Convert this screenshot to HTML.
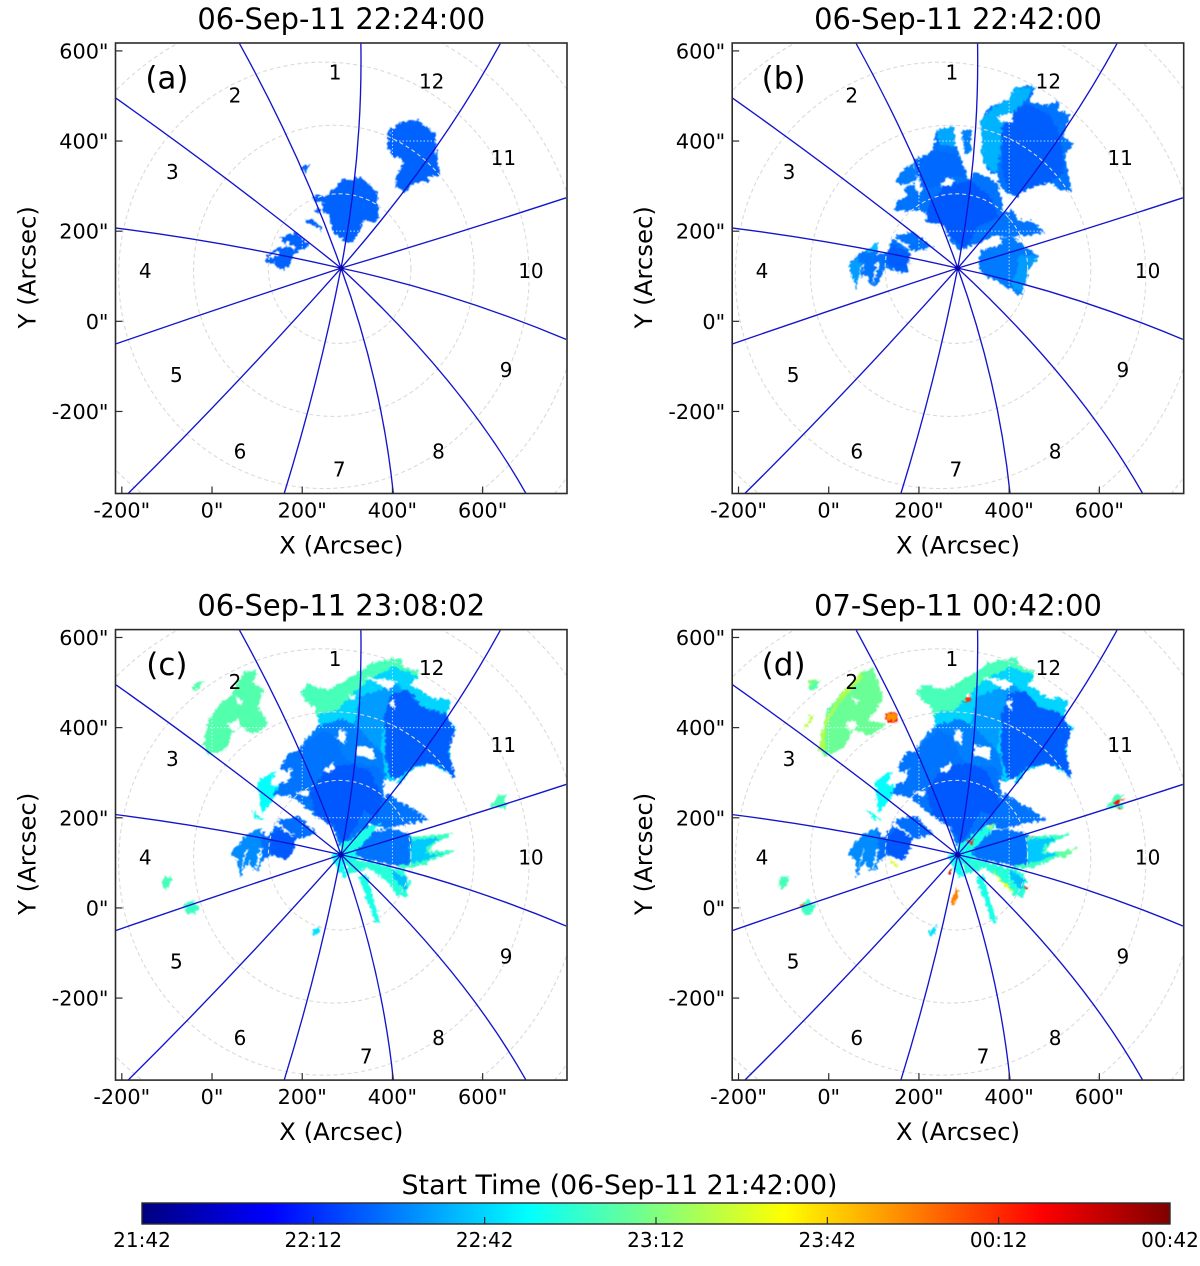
<!DOCTYPE html>
<html lang="en">
<head>
<meta charset="utf-8">
<title>Flare ribbon start-time maps</title>
<style>
html,body{margin:0;padding:0;background:#fff;}
svg{display:block;font-family:"DejaVu Sans","Liberation Sans",sans-serif;}
</style>
</head>
<body>
<svg id="figure" xmlns="http://www.w3.org/2000/svg" width="1200" height="1266" viewBox="0 0 1200 1266">
  <defs>
    <filter id="rough" filterUnits="userSpaceOnUse" x="0" y="0" width="1200" height="1266" color-interpolation-filters="sRGB">
      <feTurbulence type="fractalNoise" baseFrequency="0.3" numOctaves="2" seed="4" result="n"/>
      <feDisplacementMap in="SourceGraphic" in2="n" scale="7" xChannelSelector="R" yChannelSelector="G" result="d"/>
      <feGaussianBlur in="d" stdDeviation="0.4"/>
    </filter>
    <linearGradient id="jet-gradient" x1="0" x2="1" y1="0" y2="0"></linearGradient>
  </defs>
</svg>
<script>
// ---- Data (arcsec / minutes after 21:42) ----
const xTicks = [-200, 0, 200, 400, 600];
const yTicks = [-200, 0, 200, 400, 600];
const xDomain = [-214, 787];
const yDomain = [-382, 617.5];

const spokeCenter = [286, 118];
const spokeEndX = [330, 61, -213, -213, -213, -186, 160, 402, 696, 785, 785, 639];
const spokeEndY = [616, 616, 495, 207, -50, -382, -382, -382, -382, -40, 274, 616];
const spokeMidX = [321, 186, 36, 36, 36, 50, 230, 360, 523, 535, 535, 483];
const spokeMidY = [367, 367, 313, 169, 35, -140, -132, -132, -132, 52, 194, 367];

const ringCx = [283, 270, 248, 217, 195];
const ringCy = [117, 112, 102, 91, 84];
const ringRx = [158, 311, 455, 602, 732];
const ringRy = [166, 323, 473, 602, 732];

const gridX = [0, 200, 400];
const gridY = [200, 400];

const sectorNames = ['1','12','2','3','11','4','10','5','9','6','8','7'];
const sectorX = [273, 487, 51, -88, 646, -148, 707, -79, 652, 62, 502, 282];
const sectorY = [553, 533, 502, 332, 363, 113, 113, -118, -107, -288, -288, -328];
const sectorSevenLateX = 342;

const panelIds = ['a', 'b', 'c', 'd'];
const panelTitles = ['06-Sep-11 22:24:00', '06-Sep-11 22:42:00', '06-Sep-11 23:08:02', '07-Sep-11 00:42:00'];

const cbarMinutes = [0, 30, 60, 90, 120, 150, 180];
const cbarLabels = ['21:42', '22:12', '22:42', '23:12', '23:42', '00:12', '00:42'];
const cbarTitle = 'Start Time (06-Sep-11 21:42:00)';

const regionsA = [
 [40,[389,409,395,427,421,444,458,447,476,431,495,416,497,372,502,346,506,324,480,320,483,309,454,309,424,287,417,298,408,298,407,320,424,349,421,364,402,364,389,390]],
 [40,[225,279,254,279,277,301,288,316,313,312,325,321,343,312,354,298,365,283,369,231,358,220,336,224,325,194,310,176,295,176,277,190,265,202,262,231,243,246,247,264,225,268]],
 [40,[199,347,217,348,210,329,201,331]],
 [40,[206,225,225,225,243,209,241,202,225,213,206,220]],
 [40,[225,246,240,250,236,240]],
 [40,[151,185,188,198,217,168,192,157,177,142,173,124,151,114,136,128,118,131,121,146,143,161,166,165]]
];
const holesA = [
 [160,172,182,160,186,164,166,178],
 [128,138,150,150,146,156,128,144]
];

const regionsB = [
 [43,[336,446,358,475,402,494,410,516,439,523,458,520,446,486,483,479,509,490,509,466,535,460,520,412,543,394,524,372,531,327,539,287,513,290,491,309,446,298,417,276,398,283,380,298,373,327,362,327,343,350,339,394]],
 [43,[192,361,232,379,238,425,278,432,282,387,302,342,310,313,325,331,354,319,376,305,387,242,410,246,418,224,450,224,480,198,446,191,398,187,365,191,343,176,308,165,291,157,273,172,254,213,217,220,216,242,192,242,147,246,151,268,173,276,169,298,189,304,199,279,210,298,192,327]],
 [45,[295,423,313,425,315,375,301,372]],
 [44,[149,313,166,338,189,350,195,309,166,304,151,305]],
 [43,[44,124,62,146,88,161,110,176,107,150,125,150,136,165,143,187,188,198,232,165,203,157,180,157,177,120,169,106,143,113,125,120,107,80,92,80,81,106,66,91,61,69,55,106]],
 [44,[339,161,373,172,384,187,410,187,432,168,465,143,446,120,432,98,417,87,428,61,417,61,384,83,358,95,336,109,332,135]],
 [54,[336,446,365,475,402,494,410,516,454,520,443,497,387,438,373,327,343,350,339,394]],
 [52,[238,425,278,432,282,387,247,394]],
 [56,[88,161,110,176,107,157,84,150]],
 [50,[44,124,66,143,73,121,61,69]],
 [50,[424,150,465,143,446,120,428,61,402,83,417,106]],
 [41,[195,357,239,379,284,372,306,320,262,320,240,298,203,298]],
 [39,[384,427,410,464,439,483,491,457,509,423,520,372,520,327,487,309,450,298,417,279,398,290,384,342]],
 [38,[217,253,254,298,313,313,358,276,376,231,328,209,313,172,299,165,269,187,254,213,217,224]],
 [39,[129,150,143,172,180,150,177,113,151,113,129,128]]
];
const holesB = [
 [373,453,410,464,406,442,380,442],
 [247,301,262,320,280,313,269,301],
 [328,165,358,187,387,180,372,165,343,158],
 [173,246,213,243,210,235,176,239],
 [143,191,184,161,180,158,140,184],
 [75,128,79,128,67,88,64,88],
 [106,132,112,132,101,84,97,88]
];

const regionsShared = [
 [80,[195,479,210,497,247,486,265,486,325,523,358,545,417,556,424,534,454,527,458,512,432,490,410,490,373,423,321,416,232,423,228,445,210,457]],
 [60,[232,431,277,438,328,490,350,508,402,534,458,516,439,493,513,464,531,460,520,423,543,397,524,379,535,290,513,305,483,320,439,305,417,276,387,283,376,290,373,327,350,335,325,342,313,327,291,349,277,386,240,394]],
 [50,[328,468,387,490,410,497,439,468,380,401,373,342,347,357,325,342,317,416]],
 [39,[383,424,398,475,435,483,465,446,517,431,539,394,524,350,539,287,509,313,480,320,443,313,413,287,395,291,383,335]],
 [68,[103,283,143,305,129,276,155,268,129,231,110,209,107,227]],
 [70,[84,220,103,205,121,194,99,198]],
 [45,[232,402,290,420,325,400,380,340,387,283,291,312,202,365]],
 [43,[195,357,232,383,247,394,277,379,291,335,313,320,373,312,384,261,402,246,439,224,483,194,432,187,387,176,350,187,328,157,284,135,269,179,232,202,206,224,180,246,136,253,151,275,177,290,151,312,173,346,192,346]],
 [38,[217,253,254,312,306,320,350,305,380,238,365,202,336,216,310,165,291,143,269,183,232,202]],
 [42,[42,120,70,157,92,172,107,176,121,157,136,172,143,194,192,205,232,165,203,157,184,150,177,120,166,106,129,117,110,102,103,80,88,87,81,106,62,69,59,106]],
 [47,[42,120,70,157,92,172,107,176,112,110,103,80,88,87,81,106,62,69,59,106]],
 [38,[129,157,151,179,184,154,177,120,166,106,129,120]],
 [78,[435,157,535,165,491,142,480,124,543,128,483,102,439,87,410,91,402,120]],
 [58,[432,150,506,157,476,135,472,120,513,120,461,102,432,98]],
 [43,[328,157,365,172,395,176,439,165,439,98,410,94,343,106,313,120]],
 [74,[295,113,354,102,428,80,439,58,432,25,409,28,384,62,347,88,321,80,302,76]],
 [56,[398,84,435,65,428,39,406,62]],
 [72,[325,69,343,73,373,-34,361,-31]],
 [72,[284,143,306,150,343,180,373,187,328,135,306,120,284,120]],
 [70,[263,117,288,128,317,124,325,111,291,94,302,69,288,69]],
 [82,[-41,497,-19,505,-30,486,-43,482]],
 [80,[616,224,635,250,653,253,646,231,657,235,650,220]],
 [80,[-108,69,-89,70,-93,50,-104,39,-111,54]],
 [78,[-63,6,-45,20,-30,2,-38,-13,-56,-13]],
 [62,[221,-50,240,-39,236,-57,225,-61]]
];
const holesShared = [
 [339,512,398,505,409,498,391,483,361,501],
 [302,475,317,471,310,457],
 [284,398,298,390,295,361,276,376],
 [321,361,339,357,358,357,361,328,339,335,321,339],
 [247,305,269,324,273,309,258,298],
 [391,453,406,464,406,439],
 [380,276,420,291,391,254,380,246],
 [184,257,217,261,210,246],
 [151,290,180,312,166,275],
 [472,498,502,475,502,461,468,475],
 [143,191,184,161,180,158,140,184],
 [75,128,79,128,67,88,64,88],
 [106,132,112,132,101,84,97,88],
 [50,472,68,460,60,450],
 [35,408,55,418,66,405,48,392]
];
const regionsNorthwestC = [
 [82,[-8,416,18,453,40,468,70,523,99,527,92,497,114,486,103,445,125,405,92,386,66,401,47,394,33,353,-8,338,-19,364]]
];
const regionsNorthwestD = [
 [86,[-23,349,-4,438,33,482,77,527,99,530,121,468,107,442,88,416,129,408,95,383,55,394,33,357,-4,335]],
 [98,[-23,349,-8,416,33,482,58,508,77,527,72,505,28,460,-6,408,-10,345]],
 [100,[-60,379,-41,427,-30,427,-56,390]],
 [92,[-49,505,-19,505,-41,482]]
];
const regionsExtrasD = [
 [160,[123,422,136,436,153,432,155,419,140,408]],
 [132,[125,423,136,433,151,431,153,420,140,412]],
 [135,[269,9,284,50,288,32,280,8]],
 [170,[265,76,273,91,269,72]],
 [150,[299,460,313,471,315,456]],
 [155,[631,235,657,242,639,231]],
 [160,[642,220,652,216,646,224]],
 [150,[306,146,324,153,317,142]],
 [105,[350,176,365,187,361,176]],
 [165,[443,161,461,157,446,162]],
 [110,[358,87,395,43,417,28,391,54]],
 [160,[432,46,445,50,439,40]],
 [105,[129,117,155,91,147,92]],
 [85,[506,120,557,137,520,109]],
 [140,[-67,6,-52,9,-56,2]]
];

// ---- Layout ----
const panelLefts = [115.5, 732.2, 115.5, 732.2];
const panelTops = [43, 43, 629.6, 629.6];
const axW = 451.5, axH = 450.5;
const svgNS = 'http://www.w3.org/2000/svg';
const svg = document.getElementById('figure');

function make(tag, attrs, parent) {
  const el = document.createElementNS(svgNS, tag);
  for (const k in attrs) el.setAttribute(k, attrs[k]);
  parent.appendChild(el);
  return el;
}
function clamp01(v) { return Math.max(0, Math.min(1, v)); }
function jet(minutes) {
  const t = minutes / 180;
  const r = clamp01(Math.min(4 * t - 1.5, -4 * t + 4.5));
  const g = clamp01(Math.min(4 * t - 0.5, -4 * t + 3.5));
  const b = clamp01(Math.min(4 * t + 0.5, -4 * t + 2.5));
  return 'rgb(' + Math.round(r * 255) + ',' + Math.round(g * 255) + ',' + Math.round(b * 255) + ')';
}
function xScaleFor(i) {
  return function (x) { return panelLefts[i] + (x - xDomain[0]) / (xDomain[1] - xDomain[0]) * axW; };
}
function yScaleFor(i) {
  return function (y) { return panelTops[i] + (yDomain[1] - y) / (yDomain[1] - yDomain[0]) * axH; };
}
function pointsOf(flat, sx, sy) {
  const out = [];
  for (let k = 0; k < flat.length; k += 2) out.push(sx(flat[k]).toFixed(1) + ',' + sy(flat[k + 1]).toFixed(1));
  return out.join(' ');
}

function drawRegions(group, list, sx, sy) {
  list.forEach(function (r) {
    const poly = make('polygon', { points: pointsOf(r[1], sx, sy), fill: jet(r[0]) }, group);
    
    
  });
}
function drawHoles(group, list, sx, sy) {
  list.forEach(function (h) {
    const poly = make('polygon', { points: pointsOf(h, sx, sy), fill: '#fff' }, group);
    
    
  });
}

panelIds.forEach(function (id, i) {
  const sx = xScaleFor(i), sy = yScaleFor(i);
  const L = panelLefts[i], T = panelTops[i];

  const panel = make('g', {}, svg);
  
  

  const clip = make('clipPath', { id: 'clip-' + id }, panel);
  make('rect', { x: L, y: T, width: axW, height: axH }, clip);

  const title = make('text', { x: L + axW / 2, y: T - 14, 'text-anchor': 'middle', 'font-size': '28.9', fill: '#000' }, panel);
  title.textContent = panelTitles[i];
  
  

  const plot = make('g', { 'clip-path': 'url(#clip-' + id + ')' }, panel);
  
  

  const blobs = make('g', { filter: 'url(#rough)' }, plot);
  
  
  if (id === 'a') {
    drawRegions(blobs, regionsA, sx, sy);
    drawHoles(blobs, holesA, sx, sy);
  } else if (id === 'b') {
    drawRegions(blobs, regionsB, sx, sy);
    drawHoles(blobs, holesB, sx, sy);
  } else if (id === 'c') {
    drawRegions(blobs, regionsNorthwestC, sx, sy);
    drawRegions(blobs, regionsShared, sx, sy);
    drawHoles(blobs, holesShared, sx, sy);
  } else {
    drawRegions(blobs, regionsNorthwestD, sx, sy);
    drawRegions(blobs, regionsShared, sx, sy);
    drawHoles(blobs, holesShared, sx, sy);
    drawRegions(blobs, regionsExtrasD, sx, sy);
  }

  ringCx.forEach(function (cx, k) {
    const ring = make('ellipse', {
      cx: sx(cx), cy: sy(ringCy[k]),
      rx: sx(cx + ringRx[k]) - sx(cx), ry: sy(ringCy[k]) - sy(ringCy[k] + ringRy[k]),
      fill: 'none', stroke: '#dadada', 'stroke-width': 1.1, 'stroke-dasharray': '4 3'
    }, plot);
    
    
  });

  gridX.forEach(function (gx) {
    const line = make('line', { x1: sx(gx), x2: sx(gx), y1: T, y2: T + axH, stroke: '#fff', 'stroke-width': 1, 'stroke-dasharray': '1.5 2', opacity: 0.75 }, plot);
    
    
  });
  gridY.forEach(function (gy) {
    const line = make('line', { x1: L, x2: L + axW, y1: sy(gy), y2: sy(gy), stroke: '#fff', 'stroke-width': 1, 'stroke-dasharray': '1.5 2', opacity: 0.75 }, plot);
    
    
  });

  spokeEndX.forEach(function (ex, k) {
    const cx = 2 * spokeMidX[k] - (spokeCenter[0] + ex) / 2;
    const cy = 2 * spokeMidY[k] - (spokeCenter[1] + spokeEndY[k]) / 2;
    const d = 'M' + sx(spokeCenter[0]) + ' ' + sy(spokeCenter[1]) + ' Q' + sx(cx) + ' ' + sy(cy) + ' ' + sx(ex) + ' ' + sy(spokeEndY[k]);
    const spoke = make('path', { d: d, fill: 'none', stroke: '#1414cc', 'stroke-width': 1.35 }, plot);
    
    
  });
  const hub = make('circle', { cx: sx(spokeCenter[0]), cy: sy(spokeCenter[1]), r: 2.6, fill: '#0a0aa8' }, plot);
  
  

  sectorNames.forEach(function (name, k) {
    const useLate = name === '7' && i >= 2;
    const t = make('text', { x: sx(useLate ? sectorSevenLateX : sectorX[k]), y: sy(sectorY[k]) + 7.5, 'text-anchor': 'middle', 'font-size': '20', fill: '#000' }, plot);
    t.textContent = name;
    
    
  });

  const tag = make('text', { x: sx(-100), y: sy(540) + 10.5, 'text-anchor': 'middle', 'font-size': '31', fill: '#000' }, panel);
  tag.textContent = '(' + id + ')';
  
  

  const frame = make('rect', { x: L, y: T, width: axW, height: axH, fill: 'none', stroke: '#2b2b2b', 'stroke-width': 1.6 }, panel);
  
  

  xTicks.forEach(function (v) {
    const tick = make('line', { x1: sx(v), x2: sx(v), y1: T + axH, y2: T + axH - 7, stroke: '#2b2b2b', 'stroke-width': 1.2 }, panel);
    
    
    const lab = make('text', { x: sx(v), y: T + axH + 24, 'text-anchor': 'middle', 'font-size': '20.8', fill: '#000' }, panel);
    lab.textContent = v + '"';
    
    
  });
  yTicks.forEach(function (v) {
    const tick = make('line', { x1: L, x2: L + 7, y1: sy(v), y2: sy(v), stroke: '#2b2b2b', 'stroke-width': 1.2 }, panel);
    
    
    const lab = make('text', { x: L - 7, y: sy(v) + 7.5, 'text-anchor': 'end', 'font-size': '20.8', fill: '#000' }, panel);
    lab.textContent = v + '"';
    
    
  });

  const xl = make('text', { x: L + axW / 2, y: T + axH + 60, 'text-anchor': 'middle', 'font-size': '24.4', fill: '#000' }, panel);
  xl.textContent = 'X (Arcsec)';
  
  

  const yx = L - 80, yy = T + axH / 2 - 1;
  const yl = make('text', { x: yx, y: yy, 'text-anchor': 'middle', 'font-size': '24.4', fill: '#000', transform: 'rotate(-90 ' + yx + ' ' + yy + ')' }, panel);
  yl.textContent = 'Y (Arcsec)';
  
  
});

// ---- Colour bar ----
const cbLeft = 142, cbRight = 1170, cbTop = 1203, cbBottom = 1224;
function cbarX(m) { return cbLeft + m / 180 * (cbRight - cbLeft); }

const grad = document.getElementById('jet-gradient');
for (let s = 0; s <= 40; s++) {
  const st = make('stop', { offset: (s / 40), 'stop-color': jet(s / 40 * 180) }, grad);
}
const cbar = make('g', {}, svg);



const cbRect = make('rect', { x: cbLeft, y: cbTop, width: cbRight - cbLeft, height: cbBottom - cbTop, fill: 'url(#jet-gradient)', stroke: '#2b2b2b', 'stroke-width': 1.4 }, cbar);



const cbT = make('text', { x: 619.5, y: 1194, 'text-anchor': 'middle', 'font-size': '26.8', fill: '#000' }, cbar);
cbT.textContent = cbarTitle;



cbarMinutes.forEach(function (m, k) {
  if (k > 0 && k < cbarMinutes.length - 1) {
    const tick = make('line', { x1: cbarX(m), x2: cbarX(m), y1: cbBottom, y2: cbBottom - 7, stroke: '#222', 'stroke-width': 1.1 }, cbar);
    
    
  }
  const lab = make('text', { x: cbarX(m), y: 1247, 'text-anchor': 'middle', 'font-size': '20', fill: '#000' }, cbar);
  lab.textContent = cbarLabels[k];
  
  
});
</script>
</body>
</html>
